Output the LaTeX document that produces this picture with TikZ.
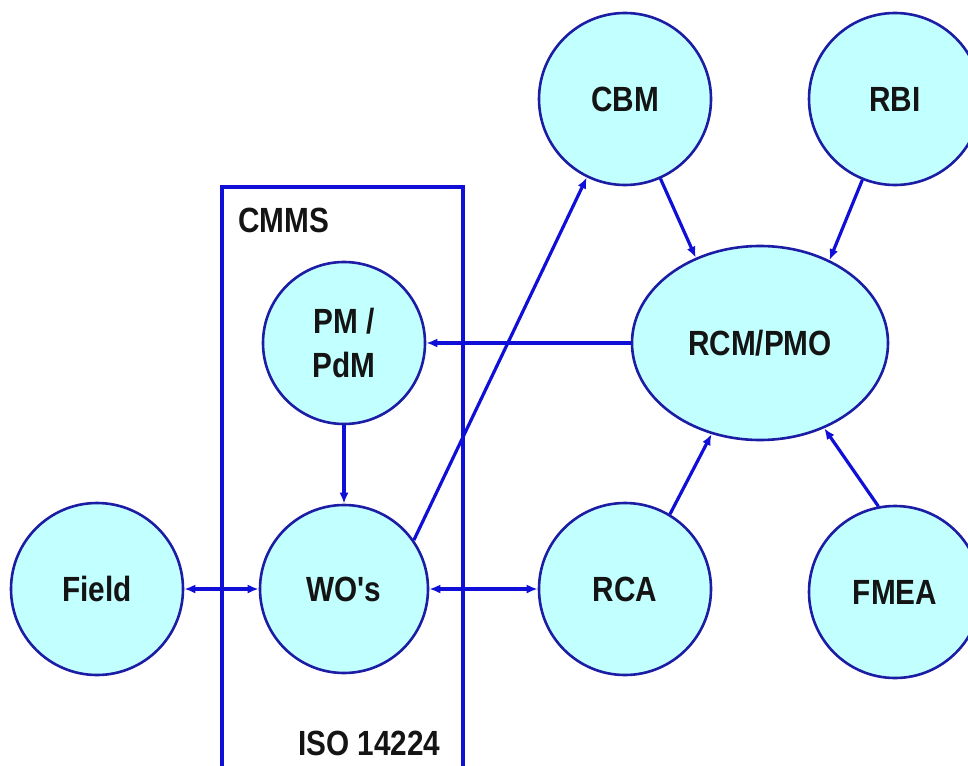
\documentclass[tikz,border=0pt]{standalone}
\usepackage{fontspec}
\setmainfont{Liberation Sans}[FakeStretch=0.85, Ligatures=TeXOff]
\usetikzlibrary{arrows.meta,shapes.geometric}

\definecolor{bubblefill}{RGB}{194,255,255}
\definecolor{bubbleline}{RGB}{28,28,165}
\definecolor{linkblue}{RGB}{15,15,215}
\definecolor{labelink}{RGB}{20,20,20}

\begin{document}
\begin{tikzpicture}[x=1pt,y=-1pt,
  labelfont/.style={font=\fontsize{35}{44}\selectfont\bfseries, text=labelink},
  bubble/.style={circle, draw=bubbleline, fill=bubblefill, line width=2.6pt,
    minimum size=172pt, inner sep=0pt, align=center, labelfont},
  oval/.style={ellipse, draw=bubbleline, fill=bubblefill, line width=2.6pt,
    minimum width=256pt, minimum height=194pt, inner sep=0pt, labelfont},
  link/.style={draw=linkblue, line width=3.2pt, -{Latex[length=11pt,width=9pt]}},
  duallink/.style={link, {Latex[length=11pt,width=9pt]}-{Latex[length=11pt,width=9pt]}},
  frame/.style={draw=linkblue, line width=4.5pt},
  tag/.style={labelfont, inner sep=0pt, anchor=base west}]

\useasboundingbox (0,0) rectangle (968,765);
\clip (0,0) rectangle (968,765);

% CMMS system boundary (open at the bottom edge)
\draw[frame] (222,790) -- (222,187) -- (463,187) -- (463,790);
\node[tag] (cmms) at (238,232) {CMMS};
\node[tag] (iso) at (298,755) {ISO 14224};

% bubbles
\node[bubble] (cbm)  at (625,99)  {CBM};
\node[bubble] (rbi)  at (895,99)  {RBI};
\node[oval]   (rcm)  at (760,343) {RCM/PMO};
\node[bubble, minimum size=162pt] (pm) at (344,343) {PM /\\PdM};
\node[bubble, minimum size=168pt] (wo) at (344,589) {WO's};
\node[bubble] (field) at (97,589)  {Field};
\node[bubble] (rca)  at (625,589) {RCA};
\node[bubble] (fmea) at (895,592) {FMEA};

% connectors
\draw[duallink] (field) -- (wo);
\draw[duallink] (wo) -- (rca);
\draw[link] (pm) -- (wo);
\draw[link] (rcm.west) -- (pm.east);
\draw[link] (wo.35) -- (cbm.-116);
\draw[link] (cbm.-66) -- (rcm.127);
\draw[link] (rbi.-112) -- (rcm.50);
\draw[link] (rca.59) -- (rcm.-118);
\draw[link] (fmea.101) -- (rcm.-53);
\end{tikzpicture}
\end{document}
